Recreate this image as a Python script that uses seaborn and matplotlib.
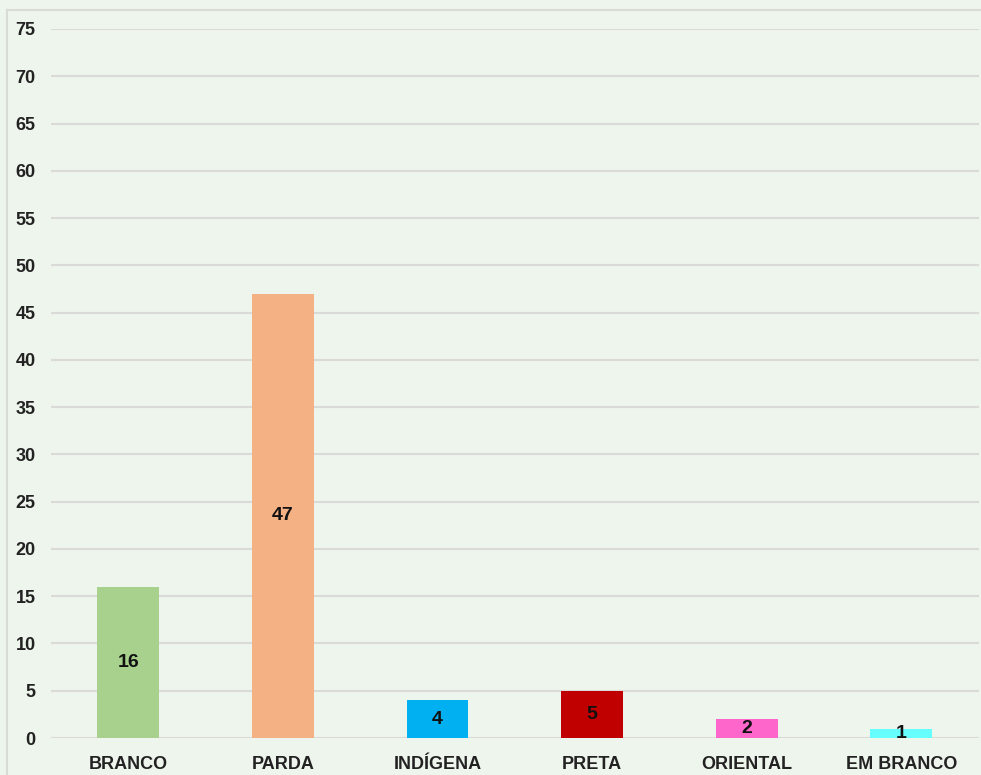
import matplotlib
matplotlib.use("Agg")
import matplotlib.pyplot as plt
import seaborn as sns
import pandas as pd
from matplotlib.patches import Rectangle

categories = ["BRANCO", "PARDA", "INDÍGENA", "PRETA", "ORIENTAL", "EM BRANCO"]
values = [16, 47, 4, 5, 2, 1]
colors = ["#a9d18e", "#f4b183", "#00b0f0", "#c00000", "#ff66cc", "#66ffff"]
yticks = list(range(0, 80, 5))

sns.set_theme(style="white")
plt.rcParams['font.family'] = ['Liberation Sans', 'DejaVu Sans']

bg = "#eef5ec"
fig = plt.figure(figsize=(9.81, 7.75), dpi=100, facecolor=bg)
ax = fig.add_axes([0.052, 0.0477, 0.9455, 0.9149])
ax.set_facecolor(bg)

df = pd.DataFrame({"cat": categories, "val": values})
sns.barplot(data=df, x="cat", y="val", hue="cat", palette=colors, legend=False,
            width=0.4, ax=ax, saturation=1, zorder=3, linewidth=0, edgecolor="none")

for c in ax.containers:
    ax.bar_label(c, label_type="center", fontsize=14, fontweight="bold", color="#111111")

ax.set_ylim(0, 75)
ax.set_xlim(-0.5, 5.5)
ax.set_yticks(yticks)
ax.yaxis.grid(True, color="#dadbd8", linewidth=1.5, zorder=0)
ax.set_axisbelow(True)
for s in ax.spines.values():
    s.set_visible(False)
ax.set_xlabel("")
ax.set_ylabel("")
ax.tick_params(axis="y", length=0, pad=11, labelsize=13)
ax.tick_params(axis="x", length=0, pad=13, labelsize=13)
for lab in ax.get_xticklabels() + ax.get_yticklabels():
    lab.set_fontweight("bold")
    lab.set_color("#222222")

fig.patches.append(Rectangle((7 / 981, -0.01), 1.0, 1 - 10 / 775 + 0.01,
                             transform=fig.transFigure, fill=False,
                             edgecolor="#d8dcd6", linewidth=1.5))

fig.savefig("out.png", dpi=100, facecolor=bg)
